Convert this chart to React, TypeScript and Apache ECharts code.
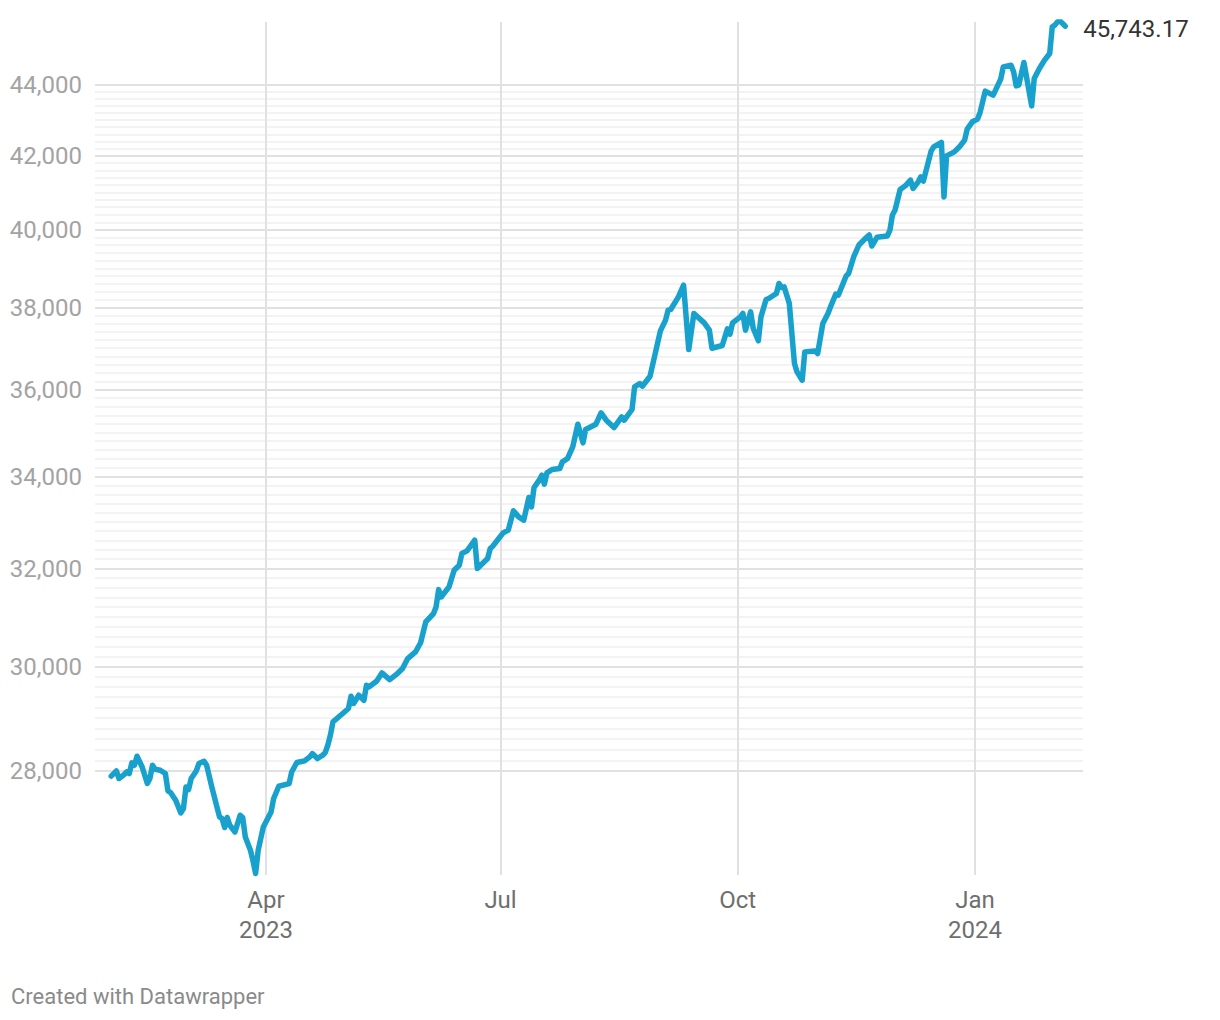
import React, { useEffect, useRef } from "react";
import * as echarts from "echarts";

const dates: string[] = [
  "2023-01-31","2023-02-02","2023-02-03","2023-02-05","2023-02-06","2023-02-07","2023-02-08","2023-02-09","2023-02-10","2023-02-12",
  "2023-02-14","2023-02-15","2023-02-16","2023-02-17","2023-02-19","2023-02-21","2023-02-22","2023-02-23","2023-02-25","2023-02-27",
  "2023-02-28","2023-03-01","2023-03-02","2023-03-03","2023-03-05","2023-03-06","2023-03-08","2023-03-09","2023-03-11","2023-03-14",
  "2023-03-15","2023-03-16","2023-03-17","2023-03-18","2023-03-20","2023-03-22","2023-03-23","2023-03-24","2023-03-26","2023-03-27",
  "2023-03-28","2023-03-29","2023-03-31","2023-04-03","2023-04-04","2023-04-06","2023-04-10","2023-04-11","2023-04-13","2023-04-16",
  "2023-04-18","2023-04-19","2023-04-21","2023-04-23","2023-04-24","2023-04-25","2023-04-26","2023-04-27","2023-04-30","2023-05-03",
  "2023-05-04","2023-05-05","2023-05-07","2023-05-09","2023-05-10","2023-05-11","2023-05-14","2023-05-16","2023-05-19","2023-05-22",
  "2023-05-24","2023-05-26","2023-05-29","2023-05-31","2023-06-02","2023-06-05","2023-06-06","2023-06-07","2023-06-08","2023-06-09",
  "2023-06-11","2023-06-13","2023-06-15","2023-06-16","2023-06-18","2023-06-21","2023-06-22","2023-06-26","2023-06-27","2023-06-28",
  "2023-06-30","2023-07-02","2023-07-04","2023-07-06","2023-07-08","2023-07-10","2023-07-12","2023-07-13","2023-07-14","2023-07-16",
  "2023-07-17","2023-07-18","2023-07-19","2023-07-21","2023-07-24","2023-07-25","2023-07-27","2023-07-29","2023-07-31","2023-08-02",
  "2023-08-03","2023-08-07","2023-08-09","2023-08-11","2023-08-14","2023-08-17","2023-08-18","2023-08-21","2023-08-22","2023-08-24",
  "2023-08-25","2023-08-28","2023-08-30","2023-09-01","2023-09-03","2023-09-04","2023-09-05","2023-09-08","2023-09-10","2023-09-12",
  "2023-09-14","2023-09-18","2023-09-20","2023-09-21","2023-09-25","2023-09-27","2023-09-28","2023-09-29","2023-10-02","2023-10-03",
  "2023-10-04","2023-10-06","2023-10-07","2023-10-09","2023-10-10","2023-10-12","2023-10-13","2023-10-16","2023-10-17","2023-10-18",
  "2023-10-19","2023-10-21","2023-10-23","2023-10-24","2023-10-26","2023-10-27","2023-10-31","2023-11-01","2023-11-03","2023-11-05",
  "2023-11-06","2023-11-08","2023-11-09","2023-11-12","2023-11-13","2023-11-15","2023-11-17","2023-11-20","2023-11-21","2023-11-22",
  "2023-11-24","2023-11-28","2023-11-29","2023-11-30","2023-12-01","2023-12-03","2023-12-05","2023-12-07","2023-12-08","2023-12-10",
  "2023-12-11","2023-12-12","2023-12-15","2023-12-16","2023-12-19","2023-12-20","2023-12-21","2023-12-24","2023-12-26","2023-12-28",
  "2023-12-29","2023-12-31","2024-01-02","2024-01-03","2024-01-05","2024-01-08","2024-01-09","2024-01-11","2024-01-12","2024-01-15",
  "2024-01-16","2024-01-17","2024-01-18","2024-01-20","2024-01-21","2024-01-23","2024-01-24","2024-01-26","2024-01-28","2024-01-30",
  "2024-01-31","2024-02-01","2024-02-02","2024-02-03","2024-02-04","2024-02-05"
];

const values: number[] = [
  27910,28006,27866,27939,27987,27958,28154,28111,28278,28079,
  27774,27866,28111,28037,28018,27958,27639,27610,27470,27241,
  27320,27712,27664,27866,28006,28142,28185,28111,27712,27170,
  27141,26981,27159,27021,26902,27200,27159,26814,26580,26394,
  26175,26580,26991,27259,27501,27725,27774,27987,28161,28191,
  28265,28328,28235,28297,28347,28484,28672,28925,29053,29181,
  29419,29278,29438,29341,29632,29599,29716,29873,29743,29861,
  29960,30158,30289,30474,30894,31066,31201,31559,31406,31476,
  31613,31965,32071,32319,32375,32604,32001,32212,32426,32475,
  32619,32761,32820,33240,33109,33037,33534,33327,33756,33918,
  34030,33829,34082,34158,34181,34330,34407,34671,35193,34763,
  35070,35193,35456,35286,35116,35362,35286,35535,36068,36149,
  36085,36323,36871,37424,37689,37938,37956,38272,38569,36968,
  37856,37622,37441,36999,37065,37475,37342,37622,37771,37856,
  37441,37896,37490,37180,37771,38207,38232,38358,38612,38510,
  38525,38107,36628,36426,36228,36910,36934,36871,37607,37856,
  38021,38340,38315,38797,38866,39298,39603,39804,39865,39577,
  39804,39838,39984,40394,40520,41078,41176,41331,41105,41285,
  41421,41304,42129,42249,42371,40878,41998,42109,42249,42436,
  42745,42951,43027,43218,43827,43712,43856,44175,44534,44584,
  44388,43980,44000,44663,44242,43404,44196,44487,44731,44929,
  45724,45775,45875,45896,45826,45743.17
];

const yMajorTicks: number[] = [28000, 30000, 32000, 34000, 36000, 38000, 40000, 42000, 44000];
const yMinorStep = 200;
const xTickDates: string[] = ["2023-04-01", "2023-07-01", "2023-10-01", "2024-01-01"];
const xTickLabels: string[] = ["Apr\n2023", "Jul", "Oct", "Jan\n2024"];

const FONT = "Roboto, 'Noto Sans', sans-serif";

function toTime(s: string): number {
  const [y, m, d] = s.split("-").map(Number);
  return new Date(y, m - 1, d).getTime();
}

export default function App() {
  const ref = useRef<HTMLDivElement>(null);

  useEffect(() => {
    if (!ref.current) return;
    const chart = echarts.init(ref.current, undefined, { renderer: "svg" });

    const seriesData = dates.map((d, i) => [toTime(d), values[i]]);

    const yMin = yMajorTicks[0];
    const yMax = yMajorTicks[yMajorTicks.length - 1];
    const hLines: any[] = [];
    for (let v = yMin; v <= yMax; v += yMinorStep) {
      const major = yMajorTicks.indexOf(v) >= 0;
      hLines.push({
        yAxis: v,
        lineStyle: { color: major ? "#e1e1e1" : "#efefef", width: major ? 2 : 1.5, type: "solid" },
        label: {
          show: major,
          position: "start",
          distance: 13,
          formatter: v.toLocaleString("en-US"),
          color: "#a3a3a3",
          fontSize: 24,
          fontFamily: FONT,
        },
      });
    }
    hLines.sort((a, b) => (a.label.show ? 1 : 0) - (b.label.show ? 1 : 0));

    const vLines = xTickDates.map((d, i) => ({
      xAxis: toTime(d),
      lineStyle: { color: "#e1e1e1", width: 2, type: "solid" },
      label: {
        show: true,
        position: "start",
        distance: 10,
        formatter: xTickLabels[i],
        color: "#6f6f6f",
        fontSize: 24,
        lineHeight: 30,
        fontFamily: FONT,
      },
    }));

    const last = values[values.length - 1];

    chart.setOption({
      animation: false,
      backgroundColor: "#ffffff",
      grid: { left: 95, right: 137, top: 22, bottom: 145 },
      xAxis: {
        type: "time",
        min: new Date(2023, 0, 24, 17).getTime(),
        max: new Date(2024, 1, 11, 22).getTime(),
        axisLine: { show: false },
        axisTick: { show: false },
        axisLabel: { show: false },
        splitLine: { show: false },
      },
      yAxis: {
        type: "log",
        logBase: 10,
        min: 26150,
        max: 45870,
        axisLine: { show: false },
        axisTick: { show: false },
        axisLabel: { show: false },
        splitLine: { show: false },
        minorSplitLine: { show: false },
      },
      graphic: [
        {
          type: "text",
          left: 11,
          top: 985,
          style: {
            text: "Created with Datawrapper",
            fill: "#8a8a8a",
            fontSize: 22,
            fontFamily: FONT,
          },
        },
      ],
      series: [
        {
          name: "grid",
          type: "line",
          data: seriesData,
          symbol: "none",
          lineStyle: { opacity: 0 },
          silent: true,
          z: 1,
          markLine: {
            silent: true,
            symbol: ["none", "none"],
            animation: false,
            data: [...hLines, ...vLines],
          },
        },
        {
          name: "Index",
          type: "line",
          data: seriesData,
          symbol: "none",
          z: 5,
          lineStyle: { color: "#18a1cd", width: 5.5, join: "round", cap: "round" },
          endLabel: {
            show: true,
            distance: 18,
            offset: [0, 3],
            formatter: () => last.toLocaleString("en-US", { minimumFractionDigits: 2, maximumFractionDigits: 2 }),
            color: "#333333",
            fontSize: 24,
            fontFamily: FONT,
          },
        },
      ],
    });

    return () => chart.dispose();
  }, []);

  return (
    <div
      ref={ref}
      style={{ position: "fixed", left: 0, top: 0, width: 1220, height: 1020, background: "#fff" }}
    />
  );
}
